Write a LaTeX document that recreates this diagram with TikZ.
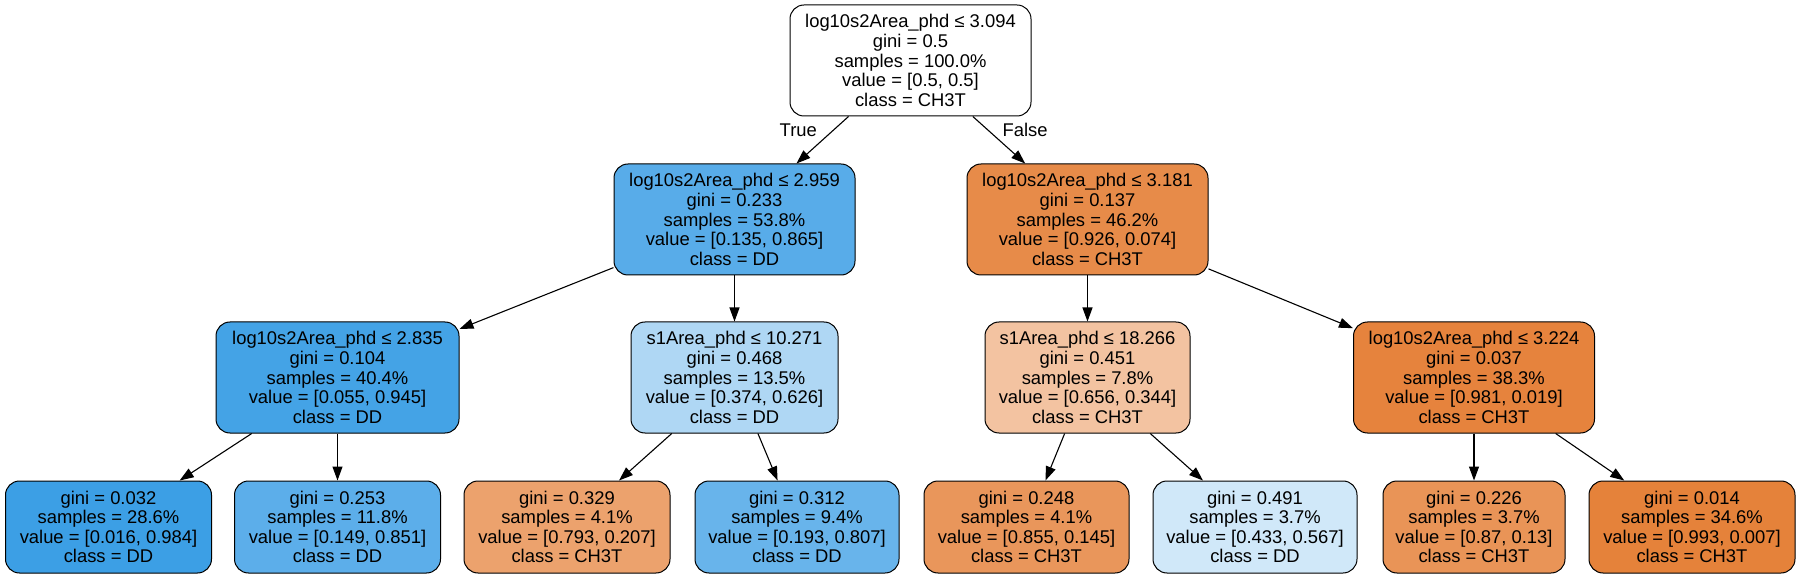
\documentclass[tikz,border=0pt]{standalone}
\usepackage{fontspec}
\setmainfont{Liberation Sans}
\usetikzlibrary{arrows.meta}
\definecolor{root0}{RGB}{255,255,255}
\definecolor{fillL}{RGB}{88,172,233}
\definecolor{fillR}{RGB}{231,139,73}
\definecolor{fillLL}{RGB}{68,163,230}
\definecolor{fillLR}{RGB}{175,215,244}
\definecolor{fillRL}{RGB}{243,195,161}
\definecolor{fillRR}{RGB}{230,131,61}
\definecolor{leafA}{RGB}{60,159,229}
\definecolor{leafB}{RGB}{92,174,234}
\definecolor{leafC}{RGB}{236,162,109}
\definecolor{leafD}{RGB}{104,180,235}
\definecolor{leafE}{RGB}{233,150,91}
\definecolor{leafF}{RGB}{208,232,249}
\definecolor{leafG}{RGB}{233,148,87}
\definecolor{leafH}{RGB}{229,130,58}
\tikzset{
splitnode/.style={
  draw, rounded corners=14pt, line width=1pt,
  align=center, inner xsep=8pt, inner ysep=0pt,
  minimum height=111pt,
  font=\fontsize{18.4pt}{19.6pt}\selectfont
},
leafnode/.style={splitnode, minimum height=92pt},
branch/.style={-{Triangle[length=14pt,width=10pt]}, line width=1.1pt},
branchlabel/.style={inner sep=2pt, font=\fontsize{18.4pt}{19.6pt}\selectfont},
}

\begin{document}
\begin{tikzpicture}[x=1pt, y=-1pt]
        \fill[white] (0,0) rectangle (1800,577);
        \useasboundingbox (0,0) rectangle (1800,577);

        \node (root) at (910.5,60.5) [splitnode, fill=root0, minimum width=241pt]
          {log10s2Area\_phd ≤ 3.094\\gini = 0.5\\samples = 100.0\%\\value = [0.5, 0.5]\\class = CH3T};

        \node (l) at (734.5,219.5) [splitnode, fill=fillL, minimum width=241pt]
          {log10s2Area\_phd ≤ 2.959\\gini = 0.233\\samples = 53.8\%\\value = [0.135, 0.865]\\class = DD};
        \node (r) at (1087.5,219.5) [splitnode, fill=fillR, minimum width=241pt]
          {log10s2Area\_phd ≤ 3.181\\gini = 0.137\\samples = 46.2\%\\value = [0.926, 0.074]\\class = CH3T};

        \node (ll) at (337.5,377.5) [splitnode, fill=fillLL, minimum width=243pt]
          {log10s2Area\_phd ≤ 2.835\\gini = 0.104\\samples = 40.4\%\\value = [0.055, 0.945]\\class = DD};
        \node (lr) at (734.5,377.5) [splitnode, fill=fillLR, minimum width=207pt]
          {s1Area\_phd ≤ 10.271\\gini = 0.468\\samples = 13.5\%\\value = [0.374, 0.626]\\class = DD};
        \node (rl) at (1087.5,377.5) [splitnode, fill=fillRL, minimum width=205pt]
          {s1Area\_phd ≤ 18.266\\gini = 0.451\\samples = 7.8\%\\value = [0.656, 0.344]\\class = CH3T};
        \node (rr) at (1474,377.5) [splitnode, fill=fillRR, minimum width=241pt]
          {log10s2Area\_phd ≤ 3.224\\gini = 0.037\\samples = 38.3\%\\value = [0.981, 0.019]\\class = CH3T};

        \node (lll) at (108.5,527) [leafnode, fill=leafA, minimum width=206pt]
          {gini = 0.032\\samples = 28.6\%\\value = [0.016, 0.984]\\class = DD};
        \node (llr) at (337.5,527) [leafnode, fill=leafB, minimum width=206pt]
          {gini = 0.253\\samples = 11.8\%\\value = [0.149, 0.851]\\class = DD};
        \node (lrl) at (567,527) [leafnode, fill=leafC, minimum width=206pt]
          {gini = 0.329\\samples = 4.1\%\\value = [0.793, 0.207]\\class = CH3T};
        \node (lrr) at (797,527) [leafnode, fill=leafD, minimum width=204pt]
          {gini = 0.312\\samples = 9.4\%\\value = [0.193, 0.807]\\class = DD};
        \node (rll) at (1026.5,527) [leafnode, fill=leafE, minimum width=205pt]
          {gini = 0.248\\samples = 4.1\%\\value = [0.855, 0.145]\\class = CH3T};
        \node (rlr) at (1255,527) [leafnode, fill=leafF, minimum width=204pt]
          {gini = 0.491\\samples = 3.7\%\\value = [0.433, 0.567]\\class = DD};
        \node (rrl) at (1474,527) [leafnode, fill=leafG, minimum width=182pt]
          {gini = 0.226\\samples = 3.7\%\\value = [0.87, 0.13]\\class = CH3T};
        \node (rrr) at (1692,527) [leafnode, fill=leafH, minimum width=206pt]
          {gini = 0.014\\samples = 34.6\%\\value = [0.993, 0.007]\\class = CH3T};

        \begin{scope}[branch]
        \draw (root) -- node[branchlabel, pos=0.29, left=14pt] {True} (l);
        \draw (root) -- node[branchlabel, pos=0.29, right=12pt] {False} (r);

        \draw (l) -- (ll);
        \draw (l) -- (lr);
        \draw (r) -- (rl);
        \draw (r) -- (rr);

        \draw (ll) -- (lll);
        \draw (ll) -- (llr);
        \draw (lr) -- (lrl);
        \draw (lr) -- (lrr);
        \draw (rl) -- (rll);
        \draw (rl) -- (rlr);
        \draw (rr) -- (rrl);
        \draw (rr) -- (rrr);
        \end{scope}
\end{tikzpicture}
\end{document}
